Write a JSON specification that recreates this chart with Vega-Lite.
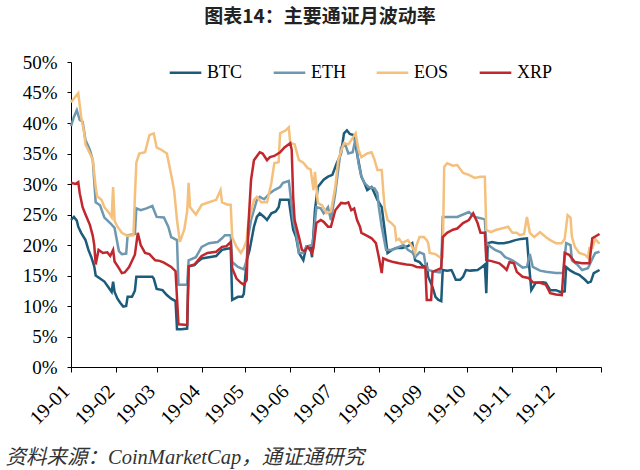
{
"$schema": "https://vega.github.io/schema/vega-lite/v6.json",
"width": 530, "height": 305,
"autosize": {"type": "none"},
"padding": {"left": 71, "top": 62, "right": 39, "bottom": 103},
"background": "white",
"title": {"text": "图表14：主要通证月波动率", "font": "Noto Sans CJK SC", "fontSize": 19, "fontWeight": "bold", "color": "#222", "anchor": "middle", "frame": "group", "offset": 26, "dx": -16},
"data": {"values": [
{"s":"BTC","d":"2019-01-01","v":24.1},{"s":"BTC","d":"2019-01-03","v":24.6},{"s":"BTC","d":"2019-01-05","v":24.0},{"s":"BTC","d":"2019-01-06","v":23.0},{"s":"BTC","d":"2019-01-08","v":22.0},{"s":"BTC","d":"2019-01-11","v":20.8},{"s":"BTC","d":"2019-01-13","v":19.2},{"s":"BTC","d":"2019-01-15","v":18.0},{"s":"BTC","d":"2019-01-17","v":16.5},{"s":"BTC","d":"2019-01-18","v":15.0},{"s":"BTC","d":"2019-01-21","v":14.5},{"s":"BTC","d":"2019-01-24","v":14.0},{"s":"BTC","d":"2019-01-27","v":13.0},{"s":"BTC","d":"2019-01-29","v":12.3},{"s":"BTC","d":"2019-01-30","v":14.0},{"s":"BTC","d":"2019-01-31","v":12.3},{"s":"BTC","d":"2019-02-02","v":11.2},{"s":"BTC","d":"2019-02-04","v":10.5},{"s":"BTC","d":"2019-02-06","v":9.9},{"s":"BTC","d":"2019-02-08","v":10.0},{"s":"BTC","d":"2019-02-09","v":11.5},{"s":"BTC","d":"2019-02-12","v":11.5},{"s":"BTC","d":"2019-02-14","v":12.5},{"s":"BTC","d":"2019-02-15","v":14.8},{"s":"BTC","d":"2019-02-20","v":14.8},{"s":"BTC","d":"2019-02-26","v":14.8},{"s":"BTC","d":"2019-02-27","v":14.5},{"s":"BTC","d":"2019-03-01","v":12.8},{"s":"BTC","d":"2019-03-05","v":12.6},{"s":"BTC","d":"2019-03-08","v":11.8},{"s":"BTC","d":"2019-03-11","v":11.2},{"s":"BTC","d":"2019-03-14","v":10.8},{"s":"BTC","d":"2019-03-15","v":6.2},{"s":"BTC","d":"2019-03-18","v":6.2},{"s":"BTC","d":"2019-03-22","v":6.3},{"s":"BTC","d":"2019-03-23","v":16.5},{"s":"BTC","d":"2019-03-27","v":16.7},{"s":"BTC","d":"2019-03-29","v":17.2},{"s":"BTC","d":"2019-04-01","v":17.8},{"s":"BTC","d":"2019-04-06","v":18.0},{"s":"BTC","d":"2019-04-11","v":18.2},{"s":"BTC","d":"2019-04-15","v":19.2},{"s":"BTC","d":"2019-04-21","v":19.5},{"s":"BTC","d":"2019-04-22","v":11.0},{"s":"BTC","d":"2019-04-26","v":11.5},{"s":"BTC","d":"2019-04-29","v":11.5},{"s":"BTC","d":"2019-04-30","v":12.0},{"s":"BTC","d":"2019-05-02","v":17.5},{"s":"BTC","d":"2019-05-04","v":19.2},{"s":"BTC","d":"2019-05-07","v":23.0},{"s":"BTC","d":"2019-05-09","v":24.6},{"s":"BTC","d":"2019-05-11","v":25.2},{"s":"BTC","d":"2019-05-14","v":24.6},{"s":"BTC","d":"2019-05-16","v":24.1},{"s":"BTC","d":"2019-05-19","v":25.2},{"s":"BTC","d":"2019-05-22","v":25.5},{"s":"BTC","d":"2019-05-24","v":26.2},{"s":"BTC","d":"2019-05-25","v":27.4},{"s":"BTC","d":"2019-05-31","v":27.4},{"s":"BTC","d":"2019-06-01","v":25.7},{"s":"BTC","d":"2019-06-03","v":22.5},{"s":"BTC","d":"2019-06-05","v":21.3},{"s":"BTC","d":"2019-06-07","v":18.7},{"s":"BTC","d":"2019-06-10","v":17.5},{"s":"BTC","d":"2019-06-12","v":19.7},{"s":"BTC","d":"2019-06-15","v":19.5},{"s":"BTC","d":"2019-06-16","v":18.0},{"s":"BTC","d":"2019-06-17","v":22.0},{"s":"BTC","d":"2019-06-18","v":25.7},{"s":"BTC","d":"2019-06-20","v":29.5},{"s":"BTC","d":"2019-06-24","v":30.7},{"s":"BTC","d":"2019-06-27","v":31.2},{"s":"BTC","d":"2019-06-30","v":31.5},{"s":"BTC","d":"2019-07-03","v":33.4},{"s":"BTC","d":"2019-07-06","v":35.0},{"s":"BTC","d":"2019-07-08","v":38.3},{"s":"BTC","d":"2019-07-10","v":38.8},{"s":"BTC","d":"2019-07-12","v":38.2},{"s":"BTC","d":"2019-07-15","v":38.0},{"s":"BTC","d":"2019-07-17","v":35.0},{"s":"BTC","d":"2019-07-20","v":31.2},{"s":"BTC","d":"2019-07-22","v":30.2},{"s":"BTC","d":"2019-07-24","v":29.0},{"s":"BTC","d":"2019-07-27","v":29.5},{"s":"BTC","d":"2019-07-29","v":28.5},{"s":"BTC","d":"2019-07-31","v":27.4},{"s":"BTC","d":"2019-08-03","v":26.2},{"s":"BTC","d":"2019-08-05","v":22.5},{"s":"BTC","d":"2019-08-07","v":18.7},{"s":"BTC","d":"2019-08-10","v":19.2},{"s":"BTC","d":"2019-08-13","v":19.5},{"s":"BTC","d":"2019-08-17","v":19.5},{"s":"BTC","d":"2019-08-21","v":19.8},{"s":"BTC","d":"2019-08-24","v":20.3},{"s":"BTC","d":"2019-08-26","v":17.5},{"s":"BTC","d":"2019-08-29","v":17.2},{"s":"BTC","d":"2019-09-01","v":16.4},{"s":"BTC","d":"2019-09-03","v":16.8},{"s":"BTC","d":"2019-09-04","v":14.8},{"s":"BTC","d":"2019-09-07","v":13.1},{"s":"BTC","d":"2019-09-09","v":11.5},{"s":"BTC","d":"2019-09-11","v":11.0},{"s":"BTC","d":"2019-09-13","v":10.8},{"s":"BTC","d":"2019-09-14","v":15.9},{"s":"BTC","d":"2019-09-17","v":15.8},{"s":"BTC","d":"2019-09-20","v":15.9},{"s":"BTC","d":"2019-09-21","v":15.4},{"s":"BTC","d":"2019-09-23","v":14.3},{"s":"BTC","d":"2019-09-26","v":14.3},{"s":"BTC","d":"2019-09-28","v":14.8},{"s":"BTC","d":"2019-09-30","v":15.9},{"s":"BTC","d":"2019-10-03","v":15.8},{"s":"BTC","d":"2019-10-08","v":15.9},{"s":"BTC","d":"2019-10-11","v":16.4},{"s":"BTC","d":"2019-10-13","v":16.8},{"s":"BTC","d":"2019-10-14","v":12.1},{"s":"BTC","d":"2019-10-15","v":20.3},{"s":"BTC","d":"2019-10-18","v":20.5},{"s":"BTC","d":"2019-10-22","v":20.3},{"s":"BTC","d":"2019-10-26","v":20.3},{"s":"BTC","d":"2019-10-30","v":20.5},{"s":"BTC","d":"2019-11-03","v":20.8},{"s":"BTC","d":"2019-11-07","v":21.0},{"s":"BTC","d":"2019-11-11","v":21.1},{"s":"BTC","d":"2019-11-12","v":18.0},{"s":"BTC","d":"2019-11-14","v":12.6},{"s":"BTC","d":"2019-11-17","v":13.8},{"s":"BTC","d":"2019-11-22","v":13.9},{"s":"BTC","d":"2019-11-24","v":13.8},{"s":"BTC","d":"2019-11-27","v":12.6},{"s":"BTC","d":"2019-12-01","v":12.6},{"s":"BTC","d":"2019-12-04","v":12.3},{"s":"BTC","d":"2019-12-07","v":12.4},{"s":"BTC","d":"2019-12-08","v":16.4},{"s":"BTC","d":"2019-12-11","v":15.8},{"s":"BTC","d":"2019-12-14","v":15.4},{"s":"BTC","d":"2019-12-17","v":15.1},{"s":"BTC","d":"2019-12-21","v":14.3},{"s":"BTC","d":"2019-12-23","v":13.8},{"s":"BTC","d":"2019-12-25","v":14.0},{"s":"BTC","d":"2019-12-27","v":15.4},{"s":"BTC","d":"2019-12-31","v":15.9},
{"s":"ETH","d":"2019-01-01","v":39.5},{"s":"ETH","d":"2019-01-03","v":41.0},{"s":"ETH","d":"2019-01-05","v":42.1},{"s":"ETH","d":"2019-01-07","v":40.5},{"s":"ETH","d":"2019-01-09","v":40.2},{"s":"ETH","d":"2019-01-11","v":37.2},{"s":"ETH","d":"2019-01-14","v":35.6},{"s":"ETH","d":"2019-01-16","v":33.9},{"s":"ETH","d":"2019-01-18","v":27.0},{"s":"ETH","d":"2019-01-21","v":26.5},{"s":"ETH","d":"2019-01-24","v":24.5},{"s":"ETH","d":"2019-01-28","v":23.6},{"s":"ETH","d":"2019-01-31","v":22.8},{"s":"ETH","d":"2019-02-01","v":21.5},{"s":"ETH","d":"2019-02-03","v":19.0},{"s":"ETH","d":"2019-02-05","v":18.5},{"s":"ETH","d":"2019-02-08","v":18.6},{"s":"ETH","d":"2019-02-09","v":21.6},{"s":"ETH","d":"2019-02-14","v":21.8},{"s":"ETH","d":"2019-02-15","v":26.0},{"s":"ETH","d":"2019-02-18","v":25.7},{"s":"ETH","d":"2019-02-22","v":26.0},{"s":"ETH","d":"2019-02-26","v":26.4},{"s":"ETH","d":"2019-02-28","v":25.2},{"s":"ETH","d":"2019-03-01","v":24.6},{"s":"ETH","d":"2019-03-06","v":24.5},{"s":"ETH","d":"2019-03-09","v":23.0},{"s":"ETH","d":"2019-03-11","v":21.3},{"s":"ETH","d":"2019-03-15","v":20.8},{"s":"ETH","d":"2019-03-16","v":13.5},{"s":"ETH","d":"2019-03-22","v":13.5},{"s":"ETH","d":"2019-03-23","v":17.5},{"s":"ETH","d":"2019-03-28","v":18.0},{"s":"ETH","d":"2019-04-01","v":19.7},{"s":"ETH","d":"2019-04-06","v":20.3},{"s":"ETH","d":"2019-04-12","v":20.5},{"s":"ETH","d":"2019-04-15","v":21.1},{"s":"ETH","d":"2019-04-17","v":21.6},{"s":"ETH","d":"2019-04-21","v":21.6},{"s":"ETH","d":"2019-04-22","v":17.2},{"s":"ETH","d":"2019-04-26","v":16.4},{"s":"ETH","d":"2019-04-30","v":16.0},{"s":"ETH","d":"2019-05-02","v":17.5},{"s":"ETH","d":"2019-05-03","v":21.3},{"s":"ETH","d":"2019-05-05","v":24.1},{"s":"ETH","d":"2019-05-09","v":27.4},{"s":"ETH","d":"2019-05-11","v":27.9},{"s":"ETH","d":"2019-05-14","v":27.5},{"s":"ETH","d":"2019-05-18","v":28.5},{"s":"ETH","d":"2019-05-21","v":29.0},{"s":"ETH","d":"2019-05-25","v":29.5},{"s":"ETH","d":"2019-05-27","v":30.2},{"s":"ETH","d":"2019-05-31","v":30.5},{"s":"ETH","d":"2019-06-01","v":28.5},{"s":"ETH","d":"2019-06-03","v":24.1},{"s":"ETH","d":"2019-06-05","v":22.0},{"s":"ETH","d":"2019-06-07","v":18.7},{"s":"ETH","d":"2019-06-10","v":18.7},{"s":"ETH","d":"2019-06-12","v":19.7},{"s":"ETH","d":"2019-06-16","v":20.0},{"s":"ETH","d":"2019-06-17","v":21.3},{"s":"ETH","d":"2019-06-19","v":26.2},{"s":"ETH","d":"2019-06-22","v":26.0},{"s":"ETH","d":"2019-06-24","v":25.2},{"s":"ETH","d":"2019-06-27","v":26.2},{"s":"ETH","d":"2019-06-29","v":24.1},{"s":"ETH","d":"2019-07-02","v":28.5},{"s":"ETH","d":"2019-07-04","v":32.3},{"s":"ETH","d":"2019-07-06","v":36.0},{"s":"ETH","d":"2019-07-09","v":36.4},{"s":"ETH","d":"2019-07-11","v":35.0},{"s":"ETH","d":"2019-07-14","v":35.2},{"s":"ETH","d":"2019-07-16","v":37.5},{"s":"ETH","d":"2019-07-18","v":33.4},{"s":"ETH","d":"2019-07-20","v":31.2},{"s":"ETH","d":"2019-07-22","v":30.2},{"s":"ETH","d":"2019-07-25","v":29.5},{"s":"ETH","d":"2019-07-29","v":29.3},{"s":"ETH","d":"2019-07-31","v":28.5},{"s":"ETH","d":"2019-08-01","v":26.2},{"s":"ETH","d":"2019-08-03","v":23.0},{"s":"ETH","d":"2019-08-06","v":19.2},{"s":"ETH","d":"2019-08-10","v":19.2},{"s":"ETH","d":"2019-08-15","v":19.7},{"s":"ETH","d":"2019-08-18","v":20.0},{"s":"ETH","d":"2019-08-21","v":19.2},{"s":"ETH","d":"2019-08-24","v":18.8},{"s":"ETH","d":"2019-08-26","v":18.0},{"s":"ETH","d":"2019-08-29","v":18.8},{"s":"ETH","d":"2019-09-01","v":18.5},{"s":"ETH","d":"2019-09-02","v":17.0},{"s":"ETH","d":"2019-09-04","v":15.9},{"s":"ETH","d":"2019-09-09","v":15.6},{"s":"ETH","d":"2019-09-12","v":15.5},{"s":"ETH","d":"2019-09-13","v":16.5},{"s":"ETH","d":"2019-09-14","v":24.6},{"s":"ETH","d":"2019-09-19","v":24.6},{"s":"ETH","d":"2019-09-24","v":24.6},{"s":"ETH","d":"2019-09-28","v":25.0},{"s":"ETH","d":"2019-10-02","v":25.4},{"s":"ETH","d":"2019-10-06","v":24.6},{"s":"ETH","d":"2019-10-10","v":24.4},{"s":"ETH","d":"2019-10-13","v":24.2},{"s":"ETH","d":"2019-10-14","v":20.3},{"s":"ETH","d":"2019-10-17","v":19.7},{"s":"ETH","d":"2019-10-20","v":19.2},{"s":"ETH","d":"2019-10-24","v":18.8},{"s":"ETH","d":"2019-10-27","v":18.0},{"s":"ETH","d":"2019-11-01","v":17.5},{"s":"ETH","d":"2019-11-04","v":17.0},{"s":"ETH","d":"2019-11-08","v":16.3},{"s":"ETH","d":"2019-11-11","v":16.4},{"s":"ETH","d":"2019-11-13","v":18.5},{"s":"ETH","d":"2019-11-15","v":16.4},{"s":"ETH","d":"2019-11-20","v":15.8},{"s":"ETH","d":"2019-11-24","v":15.6},{"s":"ETH","d":"2019-12-01","v":15.4},{"s":"ETH","d":"2019-12-06","v":15.4},{"s":"ETH","d":"2019-12-08","v":20.3},{"s":"ETH","d":"2019-12-11","v":20.0},{"s":"ETH","d":"2019-12-12","v":17.5},{"s":"ETH","d":"2019-12-16","v":16.7},{"s":"ETH","d":"2019-12-19","v":15.9},{"s":"ETH","d":"2019-12-23","v":16.2},{"s":"ETH","d":"2019-12-25","v":17.2},{"s":"ETH","d":"2019-12-28","v":18.7},{"s":"ETH","d":"2019-12-31","v":18.9},
{"s":"EOS","d":"2019-01-01","v":43.4},{"s":"EOS","d":"2019-01-04","v":44.3},{"s":"EOS","d":"2019-01-06","v":44.9},{"s":"EOS","d":"2019-01-08","v":41.0},{"s":"EOS","d":"2019-01-10","v":38.5},{"s":"EOS","d":"2019-01-11","v":36.5},{"s":"EOS","d":"2019-01-14","v":35.0},{"s":"EOS","d":"2019-01-16","v":34.0},{"s":"EOS","d":"2019-01-18","v":29.5},{"s":"EOS","d":"2019-01-19","v":28.0},{"s":"EOS","d":"2019-01-22","v":27.4},{"s":"EOS","d":"2019-01-24","v":26.2},{"s":"EOS","d":"2019-01-28","v":25.0},{"s":"EOS","d":"2019-01-29","v":24.6},{"s":"EOS","d":"2019-01-30","v":29.5},{"s":"EOS","d":"2019-01-31","v":24.0},{"s":"EOS","d":"2019-02-02","v":23.0},{"s":"EOS","d":"2019-02-05","v":22.0},{"s":"EOS","d":"2019-02-09","v":21.5},{"s":"EOS","d":"2019-02-13","v":21.6},{"s":"EOS","d":"2019-02-14","v":27.9},{"s":"EOS","d":"2019-02-15","v":33.5},{"s":"EOS","d":"2019-02-17","v":35.0},{"s":"EOS","d":"2019-02-21","v":35.2},{"s":"EOS","d":"2019-02-24","v":38.0},{"s":"EOS","d":"2019-02-27","v":38.3},{"s":"EOS","d":"2019-03-01","v":36.0},{"s":"EOS","d":"2019-03-05","v":35.5},{"s":"EOS","d":"2019-03-08","v":35.0},{"s":"EOS","d":"2019-03-11","v":31.5},{"s":"EOS","d":"2019-03-13","v":29.0},{"s":"EOS","d":"2019-03-15","v":24.1},{"s":"EOS","d":"2019-03-17","v":20.5},{"s":"EOS","d":"2019-03-20","v":22.5},{"s":"EOS","d":"2019-03-22","v":25.5},{"s":"EOS","d":"2019-03-23","v":30.2},{"s":"EOS","d":"2019-03-24","v":26.2},{"s":"EOS","d":"2019-03-28","v":25.0},{"s":"EOS","d":"2019-04-01","v":26.6},{"s":"EOS","d":"2019-04-06","v":27.0},{"s":"EOS","d":"2019-04-11","v":27.4},{"s":"EOS","d":"2019-04-14","v":29.0},{"s":"EOS","d":"2019-04-15","v":27.0},{"s":"EOS","d":"2019-04-19","v":26.6},{"s":"EOS","d":"2019-04-21","v":26.6},{"s":"EOS","d":"2019-04-22","v":21.3},{"s":"EOS","d":"2019-04-25","v":19.7},{"s":"EOS","d":"2019-04-28","v":18.7},{"s":"EOS","d":"2019-04-30","v":19.5},{"s":"EOS","d":"2019-05-02","v":20.8},{"s":"EOS","d":"2019-05-03","v":23.5},{"s":"EOS","d":"2019-05-07","v":27.4},{"s":"EOS","d":"2019-05-09","v":27.9},{"s":"EOS","d":"2019-05-12","v":27.0},{"s":"EOS","d":"2019-05-16","v":27.0},{"s":"EOS","d":"2019-05-19","v":30.2},{"s":"EOS","d":"2019-05-21","v":33.4},{"s":"EOS","d":"2019-05-24","v":33.6},{"s":"EOS","d":"2019-05-25","v":38.3},{"s":"EOS","d":"2019-05-29","v":38.8},{"s":"EOS","d":"2019-05-31","v":39.3},{"s":"EOS","d":"2019-06-01","v":36.7},{"s":"EOS","d":"2019-06-04","v":36.5},{"s":"EOS","d":"2019-06-07","v":33.9},{"s":"EOS","d":"2019-06-10","v":33.5},{"s":"EOS","d":"2019-06-13","v":32.6},{"s":"EOS","d":"2019-06-15","v":32.4},{"s":"EOS","d":"2019-06-17","v":29.0},{"s":"EOS","d":"2019-06-18","v":32.0},{"s":"EOS","d":"2019-06-20","v":26.9},{"s":"EOS","d":"2019-06-23","v":26.5},{"s":"EOS","d":"2019-06-26","v":25.2},{"s":"EOS","d":"2019-06-29","v":25.5},{"s":"EOS","d":"2019-07-02","v":29.5},{"s":"EOS","d":"2019-07-04","v":33.9},{"s":"EOS","d":"2019-07-08","v":36.7},{"s":"EOS","d":"2019-07-11","v":36.5},{"s":"EOS","d":"2019-07-13","v":37.2},{"s":"EOS","d":"2019-07-16","v":38.3},{"s":"EOS","d":"2019-07-18","v":35.6},{"s":"EOS","d":"2019-07-20","v":34.4},{"s":"EOS","d":"2019-07-24","v":35.0},{"s":"EOS","d":"2019-07-27","v":35.2},{"s":"EOS","d":"2019-07-29","v":34.0},{"s":"EOS","d":"2019-07-31","v":32.3},{"s":"EOS","d":"2019-08-03","v":32.3},{"s":"EOS","d":"2019-08-04","v":29.0},{"s":"EOS","d":"2019-08-05","v":26.2},{"s":"EOS","d":"2019-08-07","v":24.1},{"s":"EOS","d":"2019-08-10","v":23.5},{"s":"EOS","d":"2019-08-12","v":23.0},{"s":"EOS","d":"2019-08-13","v":20.8},{"s":"EOS","d":"2019-08-15","v":21.0},{"s":"EOS","d":"2019-08-17","v":20.3},{"s":"EOS","d":"2019-08-21","v":20.8},{"s":"EOS","d":"2019-08-24","v":19.7},{"s":"EOS","d":"2019-08-26","v":18.7},{"s":"EOS","d":"2019-08-27","v":20.0},{"s":"EOS","d":"2019-08-29","v":21.3},{"s":"EOS","d":"2019-09-01","v":21.3},{"s":"EOS","d":"2019-09-03","v":20.8},{"s":"EOS","d":"2019-09-04","v":20.3},{"s":"EOS","d":"2019-09-05","v":18.7},{"s":"EOS","d":"2019-09-09","v":18.5},{"s":"EOS","d":"2019-09-12","v":18.0},{"s":"EOS","d":"2019-09-14","v":18.0},{"s":"EOS","d":"2019-09-15","v":32.8},{"s":"EOS","d":"2019-09-17","v":33.4},{"s":"EOS","d":"2019-09-21","v":33.0},{"s":"EOS","d":"2019-09-24","v":33.1},{"s":"EOS","d":"2019-09-28","v":31.8},{"s":"EOS","d":"2019-10-02","v":31.5},{"s":"EOS","d":"2019-10-06","v":31.0},{"s":"EOS","d":"2019-10-10","v":31.2},{"s":"EOS","d":"2019-10-13","v":31.2},{"s":"EOS","d":"2019-10-14","v":22.5},{"s":"EOS","d":"2019-10-17","v":22.1},{"s":"EOS","d":"2019-10-21","v":22.5},{"s":"EOS","d":"2019-10-26","v":22.8},{"s":"EOS","d":"2019-10-29","v":23.0},{"s":"EOS","d":"2019-11-01","v":22.0},{"s":"EOS","d":"2019-11-04","v":22.0},{"s":"EOS","d":"2019-11-06","v":21.6},{"s":"EOS","d":"2019-11-09","v":21.8},{"s":"EOS","d":"2019-11-11","v":24.6},{"s":"EOS","d":"2019-11-13","v":22.0},{"s":"EOS","d":"2019-11-16","v":21.3},{"s":"EOS","d":"2019-11-20","v":22.1},{"s":"EOS","d":"2019-11-24","v":21.3},{"s":"EOS","d":"2019-11-27","v":20.8},{"s":"EOS","d":"2019-12-01","v":20.3},{"s":"EOS","d":"2019-12-05","v":20.3},{"s":"EOS","d":"2019-12-07","v":21.0},{"s":"EOS","d":"2019-12-09","v":24.9},{"s":"EOS","d":"2019-12-11","v":24.5},{"s":"EOS","d":"2019-12-12","v":21.3},{"s":"EOS","d":"2019-12-14","v":19.7},{"s":"EOS","d":"2019-12-17","v":18.7},{"s":"EOS","d":"2019-12-21","v":18.4},{"s":"EOS","d":"2019-12-23","v":17.9},{"s":"EOS","d":"2019-12-24","v":19.5},{"s":"EOS","d":"2019-12-26","v":19.5},{"s":"EOS","d":"2019-12-28","v":21.0},{"s":"EOS","d":"2019-12-31","v":20.2},
{"s":"XRP","d":"2019-01-01","v":30.2},{"s":"XRP","d":"2019-01-04","v":30.0},{"s":"XRP","d":"2019-01-06","v":30.3},{"s":"XRP","d":"2019-01-07","v":28.5},{"s":"XRP","d":"2019-01-09","v":26.2},{"s":"XRP","d":"2019-01-11","v":25.0},{"s":"XRP","d":"2019-01-14","v":23.3},{"s":"XRP","d":"2019-01-16","v":21.5},{"s":"XRP","d":"2019-01-17","v":20.0},{"s":"XRP","d":"2019-01-18","v":16.8},{"s":"XRP","d":"2019-01-20","v":19.2},{"s":"XRP","d":"2019-01-23","v":18.7},{"s":"XRP","d":"2019-01-26","v":18.8},{"s":"XRP","d":"2019-01-28","v":18.2},{"s":"XRP","d":"2019-01-30","v":19.2},{"s":"XRP","d":"2019-01-31","v":17.3},{"s":"XRP","d":"2019-02-03","v":16.2},{"s":"XRP","d":"2019-02-05","v":15.4},{"s":"XRP","d":"2019-02-07","v":15.5},{"s":"XRP","d":"2019-02-10","v":16.4},{"s":"XRP","d":"2019-02-14","v":18.4},{"s":"XRP","d":"2019-02-16","v":22.0},{"s":"XRP","d":"2019-02-18","v":20.0},{"s":"XRP","d":"2019-02-21","v":18.7},{"s":"XRP","d":"2019-02-24","v":18.5},{"s":"XRP","d":"2019-02-28","v":17.5},{"s":"XRP","d":"2019-03-03","v":17.4},{"s":"XRP","d":"2019-03-06","v":17.1},{"s":"XRP","d":"2019-03-11","v":16.4},{"s":"XRP","d":"2019-03-14","v":15.7},{"s":"XRP","d":"2019-03-16","v":7.0},{"s":"XRP","d":"2019-03-22","v":6.9},{"s":"XRP","d":"2019-03-23","v":16.5},{"s":"XRP","d":"2019-03-27","v":16.8},{"s":"XRP","d":"2019-04-01","v":18.2},{"s":"XRP","d":"2019-04-05","v":18.7},{"s":"XRP","d":"2019-04-11","v":18.9},{"s":"XRP","d":"2019-04-15","v":19.7},{"s":"XRP","d":"2019-04-18","v":19.8},{"s":"XRP","d":"2019-04-21","v":20.5},{"s":"XRP","d":"2019-04-22","v":16.2},{"s":"XRP","d":"2019-04-25","v":14.5},{"s":"XRP","d":"2019-04-28","v":13.8},{"s":"XRP","d":"2019-04-30","v":13.5},{"s":"XRP","d":"2019-05-02","v":14.3},{"s":"XRP","d":"2019-05-03","v":22.5},{"s":"XRP","d":"2019-05-05","v":30.7},{"s":"XRP","d":"2019-05-07","v":33.9},{"s":"XRP","d":"2019-05-11","v":35.2},{"s":"XRP","d":"2019-05-13","v":35.0},{"s":"XRP","d":"2019-05-16","v":33.9},{"s":"XRP","d":"2019-05-18","v":34.4},{"s":"XRP","d":"2019-05-21","v":34.6},{"s":"XRP","d":"2019-05-25","v":35.2},{"s":"XRP","d":"2019-05-28","v":36.0},{"s":"XRP","d":"2019-06-01","v":36.7},{"s":"XRP","d":"2019-06-02","v":35.6},{"s":"XRP","d":"2019-06-03","v":27.9},{"s":"XRP","d":"2019-06-04","v":24.1},{"s":"XRP","d":"2019-06-07","v":21.3},{"s":"XRP","d":"2019-06-09","v":19.2},{"s":"XRP","d":"2019-06-11","v":19.0},{"s":"XRP","d":"2019-06-13","v":19.7},{"s":"XRP","d":"2019-06-16","v":18.7},{"s":"XRP","d":"2019-06-17","v":19.5},{"s":"XRP","d":"2019-06-19","v":23.6},{"s":"XRP","d":"2019-06-22","v":24.1},{"s":"XRP","d":"2019-06-24","v":23.8},{"s":"XRP","d":"2019-06-27","v":23.0},{"s":"XRP","d":"2019-06-29","v":23.0},{"s":"XRP","d":"2019-07-02","v":25.7},{"s":"XRP","d":"2019-07-06","v":26.9},{"s":"XRP","d":"2019-07-09","v":26.8},{"s":"XRP","d":"2019-07-11","v":27.0},{"s":"XRP","d":"2019-07-13","v":25.7},{"s":"XRP","d":"2019-07-15","v":26.0},{"s":"XRP","d":"2019-07-17","v":24.1},{"s":"XRP","d":"2019-07-19","v":23.0},{"s":"XRP","d":"2019-07-20","v":22.0},{"s":"XRP","d":"2019-07-24","v":21.5},{"s":"XRP","d":"2019-07-27","v":21.1},{"s":"XRP","d":"2019-07-30","v":20.3},{"s":"XRP","d":"2019-08-01","v":18.0},{"s":"XRP","d":"2019-08-03","v":15.4},{"s":"XRP","d":"2019-08-04","v":17.8},{"s":"XRP","d":"2019-08-07","v":17.5},{"s":"XRP","d":"2019-08-11","v":17.2},{"s":"XRP","d":"2019-08-15","v":17.0},{"s":"XRP","d":"2019-08-20","v":16.8},{"s":"XRP","d":"2019-08-24","v":16.7},{"s":"XRP","d":"2019-08-27","v":16.4},{"s":"XRP","d":"2019-08-31","v":16.3},{"s":"XRP","d":"2019-09-02","v":16.4},{"s":"XRP","d":"2019-09-03","v":11.0},{"s":"XRP","d":"2019-09-06","v":11.0},{"s":"XRP","d":"2019-09-07","v":15.6},{"s":"XRP","d":"2019-09-09","v":15.8},{"s":"XRP","d":"2019-09-13","v":16.2},{"s":"XRP","d":"2019-09-14","v":21.3},{"s":"XRP","d":"2019-09-17","v":22.0},{"s":"XRP","d":"2019-09-21","v":22.5},{"s":"XRP","d":"2019-09-24","v":22.7},{"s":"XRP","d":"2019-09-28","v":23.6},{"s":"XRP","d":"2019-10-02","v":24.1},{"s":"XRP","d":"2019-10-05","v":25.2},{"s":"XRP","d":"2019-10-08","v":23.6},{"s":"XRP","d":"2019-10-10","v":22.0},{"s":"XRP","d":"2019-10-13","v":22.0},{"s":"XRP","d":"2019-10-14","v":17.5},{"s":"XRP","d":"2019-10-17","v":17.4},{"s":"XRP","d":"2019-10-20","v":17.2},{"s":"XRP","d":"2019-10-23","v":17.0},{"s":"XRP","d":"2019-10-26","v":16.4},{"s":"XRP","d":"2019-10-28","v":15.9},{"s":"XRP","d":"2019-10-30","v":17.2},{"s":"XRP","d":"2019-11-02","v":17.0},{"s":"XRP","d":"2019-11-04","v":15.6},{"s":"XRP","d":"2019-11-08","v":14.8},{"s":"XRP","d":"2019-11-12","v":14.6},{"s":"XRP","d":"2019-11-15","v":13.9},{"s":"XRP","d":"2019-11-20","v":13.8},{"s":"XRP","d":"2019-11-24","v":13.5},{"s":"XRP","d":"2019-11-27","v":12.1},{"s":"XRP","d":"2019-12-01","v":11.9},{"s":"XRP","d":"2019-12-05","v":11.8},{"s":"XRP","d":"2019-12-07","v":18.7},{"s":"XRP","d":"2019-12-10","v":18.4},{"s":"XRP","d":"2019-12-14","v":17.2},{"s":"XRP","d":"2019-12-19","v":17.0},{"s":"XRP","d":"2019-12-24","v":17.0},{"s":"XRP","d":"2019-12-26","v":21.1},{"s":"XRP","d":"2019-12-31","v":21.8}
]},
"mark": {"type": "line", "strokeWidth": 2.5, "interpolate": "linear"},
"encoding": {
"x": {"field": "d", "type": "temporal",
 "scale": {"type": "utc", "domain": [{"year": 2019, "month": 1, "date": 1, "utc": true}, {"year": 2020, "month": 1, "date": 1, "utc": true}]},
 "axis": {"title": "资料来源：CoinMarketCap，通证通研究", "titleFont": "Liberation Serif, Noto Sans CJK SC", "titleFontStyle": "italic", "titleFontWeight": "normal", "titleFontSize": 20.5, "titleColor": "#333", "titleAnchor": "start", "titleAlign": "left", "titleX": -66, "titleY": 96, "titleBaseline": "alphabetic",
  "format": "%y-%m", "tickCount": {"interval": "month", "step": 1}, "labelAngle": -45, "labelAlign": "right", "labelBaseline": "middle", "labelPadding": 16, "labelOffset": -5,
  "labelExpr": "utcyear(datum.value) > 2019 ? '' : datum.label", "labelOverlap": false, "labelFlush": false, "labelBound": false,
  "labelFont": "Liberation Serif", "labelFontSize": 20, "labelColor": "#000", "domainColor": "#000", "tickColor": "#000", "tickSize": 5, "grid": false}},
"y": {"field": "v", "type": "quantitative", "scale": {"domain": [0, 50], "nice": false},
 "axis": {"title": null, "values": [0,5,10,15,20,25,30,35,40,45,50], "labelExpr": "datum.value + '%'", "grid": false, "labelFont": "Liberation Serif", "labelFontSize": 19, "labelColor": "#000", "domainColor": "#000", "tickColor": "#000", "tickSize": 4, "labelPadding": 10}},
"color": {"field": "s", "type": "nominal", "scale": {"domain": ["BTC", "ETH", "EOS", "XRP"], "range": ["#1c5b7a", "#6e97b0", "#f4c07c", "#c0282e"]},
 "legend": {"orient": "none", "direction": "horizontal", "legendX": 97, "legendY": -7, "title": null, "symbolType": "stroke", "symbolSize": 1000, "symbolStrokeWidth": 2.5, "labelFont": "Liberation Serif", "labelFontSize": 18, "labelColor": "#000", "columnPadding": 25, "labelOffset": 4}}
},
"config": {"view": {"stroke": null}}
}
